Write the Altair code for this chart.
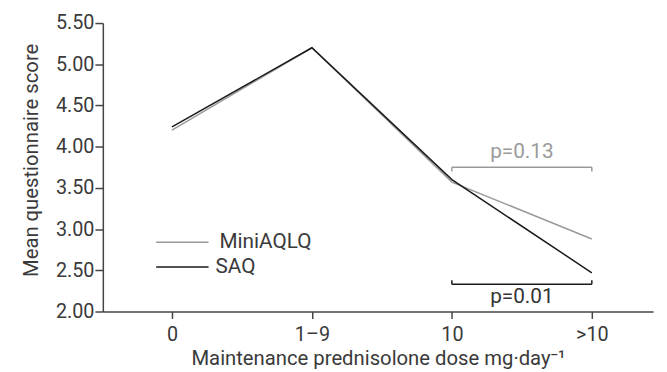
import json
import altair as alt
import pandas as pd

doses = ["0", "1–9", "10", ">10"]
mini_aqlq = [4.20, 5.20, 3.57, 2.88]
saq = [4.24, 5.20, 3.60, 2.47]
series_names = ["MiniAQLQ", "SAQ"]
series_colors = ["#9a9a9a", "#1a1a1a"]
label_colors = ["#9a9a9a", "#333333"]

# p-value brackets between "10" and ">10"
p_labels = ["p=0.13", "p=0.01"]
bracket_y = [3.75, 2.33]
bracket_tip = [3.70, 2.38]
label_y = [3.93, 2.17]

FONT = "Roboto"
TXT = "#3a3a3a"
FS = 20
FS_IN = 21
FS_T = 20.5

rows = []
for i, (d, a, b) in enumerate(zip(doses, mini_aqlq, saq)):
    rows.append({"idx": i, "dose": d, "series": "MiniAQLQ", "score": a})
    rows.append({"idx": i, "dose": d, "series": "SAQ", "score": b})
df = pd.DataFrame(rows)

i10 = doses.index("10")
igt = doses.index(">10")
br = pd.DataFrame({
    "series": series_names,
    "label": p_labels,
    "y": bracket_y,
    "tip": bracket_tip,
    "ly": label_y,
    "x1": [i10, i10],
    "x2": [igt, igt],
    "xm": [(i10 + igt) / 2, (i10 + igt) / 2],
})

xscale = alt.Scale(domain=[-0.494, 3.4376], nice=False, zero=False)
yscale = alt.Scale(domain=[2.0, 5.5], nice=False, zero=False)
cscale = alt.Scale(domain=series_names, range=series_colors)
tscale = alt.Scale(domain=series_names, range=label_colors)

x_enc = alt.X(
    "idx:Q", scale=xscale,
    axis=alt.Axis(
        title="Maintenance prednisolone dose mg·day⁻¹",
        values=list(range(len(doses))),
        labelExpr=json.dumps(doses, ensure_ascii=False) + "[datum.value]",
        labelFontSize=FS, titleFontSize=FS_T,
        labelPadding=6, tickSize=7, grid=False,
        titleX=278.5, titleY=53.5, titleBaseline="alphabetic", titleAlign="center",
    ),
)
y_enc = alt.Y(
    "score:Q", scale=yscale,
    axis=alt.Axis(
        title="Mean questionnaire score",
        values=[2.0, 2.5, 3.0, 3.5, 4.0, 4.5, 5.0, 5.5], format=".2f",
        labelFontSize=FS, titleFontSize=FS_T, tickSize=8, labelPadding=1,
        titleX=-66, titleY=138.5, titleAngle=-90, titleBaseline="alphabetic", titleAlign="center",
        grid=False,
    ),
)

lines = alt.Chart(df).mark_line(strokeWidth=1.5).encode(
    x=x_enc, y=y_enc,
    color=alt.Color("series:N", scale=cscale, legend=None),
)

b_h = alt.Chart(br).mark_rule(strokeWidth=1.5).encode(
    x=alt.X("x1:Q", scale=xscale),
    x2="x2:Q",
    y="y:Q",
    color=alt.Color("series:N", scale=cscale, legend=None),
)
b_l = alt.Chart(br).mark_rule(strokeWidth=1.5).encode(
    x=alt.X("x1:Q", scale=xscale),
    y="y:Q", y2="tip:Q",
    color=alt.Color("series:N", scale=cscale, legend=None),
)
b_r = alt.Chart(br).mark_rule(strokeWidth=1.5).encode(
    x=alt.X("x2:Q", scale=xscale),
    y="y:Q", y2="tip:Q",
    color=alt.Color("series:N", scale=cscale, legend=None),
)
b_t = alt.Chart(br).mark_text(font=FONT, fontSize=FS_IN, align="center", baseline="middle").encode(
    x=alt.X("xm:Q", scale=xscale),
    y="ly:Q",
    text="label:N",
    fill=alt.Fill("series:N", scale=tscale, legend=None),
)

# manual legend
leg_y = [243, 268]
leg_text_x = [222, 218]
legs = []
for name, col, yy, tx in zip(series_names, series_colors, leg_y, leg_text_x):
    legs.append(
        alt.Chart(pd.DataFrame({"t": [name]})).mark_rule(color=col, strokeWidth=1.5).encode(
            x=alt.value(158 - 104), x2=alt.value(211 - 104), y=alt.value(yy - 21)
        )
    )
    legs.append(
        alt.Chart(pd.DataFrame({"t": [name]})).mark_text(
            font=FONT, fontSize=FS_IN, color=TXT, align="left", baseline="middle"
        ).encode(x=alt.value(tx - 104), y=alt.value(yy - 21), text="t:N")
    )

chart = alt.layer(lines, b_h, b_l, b_r, b_t, *legs).properties(
    width=557, height=292,
    autosize=alt.AutoSizeParams(type="none"),
    padding={"left": 96, "top": 13, "right": 6, "bottom": 59},
    background="white",
).configure_view(stroke=None).configure_axis(
    labelFont=FONT, titleFont=FONT, labelColor=TXT, titleColor=TXT,
    domainColor="#444444", tickColor="#444444", domainWidth=1.5, tickWidth=1.5,
    titleFontWeight="normal",
)

chart.save("out.html", embed_options={"renderer": "svg", "actions": False})
